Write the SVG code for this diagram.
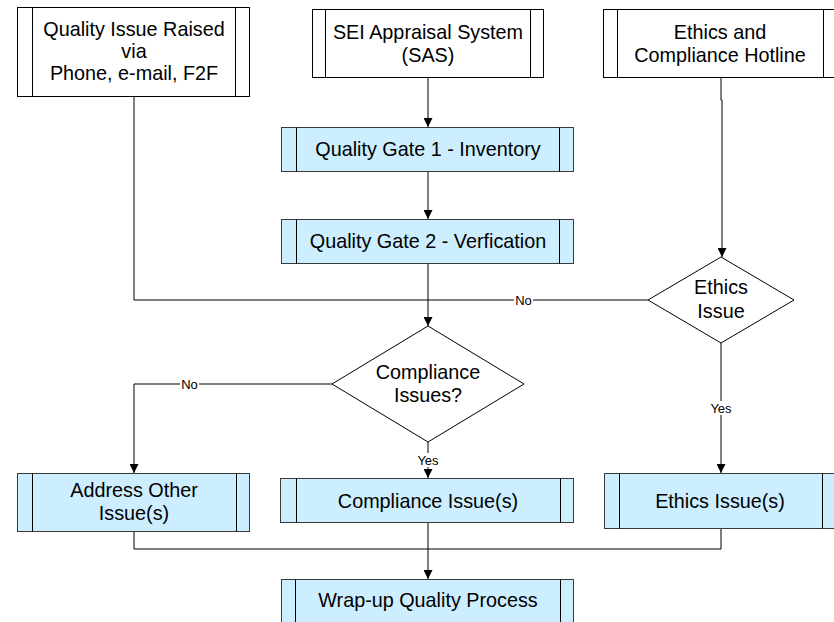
<svg xmlns="http://www.w3.org/2000/svg" width="834" height="622" viewBox="0 0 834 622">
  <style>
    .t { font-family: "Liberation Sans", Arial, sans-serif; font-size: 19.8px; fill: #000; text-anchor: middle; }
    .lbl { font-family: "Liberation Sans", Arial, sans-serif; font-size: 13px; fill: #000; text-anchor: middle; }
    .src { fill: #ffffff; stroke: #000; stroke-width: 1; }
    .proc { fill: #cceeff; stroke: #3a3a3a; stroke-width: 1; }
    .bar { stroke: #000; stroke-width: 1; fill: none; }
    .dec { fill: #ffffff; stroke: #000; stroke-width: 1; }
    .wire { fill: none; stroke: #000; stroke-width: 1; }
    .tag { fill: #ffffff; }
  </style>
  <defs>
    <marker id="arrow" viewBox="0 0 10 10" refX="10" refY="5" markerWidth="9" markerHeight="9" markerUnits="userSpaceOnUse" orient="auto">
      <path d="M0,0 L10,5 L0,10 Z" fill="#000"/>
    </marker>
  </defs>

  <rect width="834" height="622" fill="#ffffff"/>

  <!-- connectors -->
  <g id="connectors">
    <path class="wire" d="M428,78 V127" marker-end="url(#arrow)"/>
    <path class="wire" d="M428,171 V219" marker-end="url(#arrow)"/>
    <path class="wire" d="M428,263 V326" marker-end="url(#arrow)"/>
    <path class="wire" d="M134,97 V300 H428"/>
    <path class="wire" d="M648,300 H428"/>
    <path class="wire" d="M721,78 V100 H722 V257" marker-end="url(#arrow)"/>
    <path class="wire" d="M721,343 V473" marker-end="url(#arrow)"/>
    <path class="wire" d="M332,384 H134 V473" marker-end="url(#arrow)"/>
    <path class="wire" d="M428,442 V478" marker-end="url(#arrow)"/>
    <path class="wire" d="M134,532 V549 H721 V529"/>
    <path class="wire" d="M428,523 V579" marker-end="url(#arrow)"/>
    <!-- branch labels -->
    <rect class="tag" x="514" y="293" width="19" height="14"/>
    <text class="lbl" x="523.5" y="305">No</text>
    <rect class="tag" x="180" y="377" width="19" height="14"/>
    <text class="lbl" x="189.5" y="389">No</text>
    <rect class="tag" x="416" y="453" width="24" height="14"/>
    <text class="lbl" x="428" y="465">Yes</text>
    <rect class="tag" x="709" y="401" width="24" height="14"/>
    <text class="lbl" x="721" y="413">Yes</text>
  </g>

  <!-- entry points -->
  <g id="phone-email">
    <rect class="src" x="17.5" y="7.5" width="232" height="89"/>
    <path class="bar" d="M32.5,7.5 V96.5 M235.5,7.5 V96.5"/>
    <text class="t" x="134" y="36">Quality Issue Raised</text>
    <text class="t" x="134" y="58">via</text>
    <text class="t" x="134" y="80">Phone, e-mail, F2F</text>
  </g>
  <g id="sas">
    <rect class="src" x="312.5" y="9.5" width="231" height="68"/>
    <path class="bar" d="M325.5,9.5 V77.5 M530.5,9.5 V77.5"/>
    <text class="t" x="428" y="39">SEI Appraisal System</text>
    <text class="t" x="428" y="62">(SAS)</text>
  </g>
  <g id="hotline">
    <rect class="src" x="603.5" y="9.5" width="236" height="68"/>
    <path class="bar" d="M617.5,9.5 V77.5 M823.5,9.5 V77.5"/>
    <text class="t" x="720" y="39">Ethics and</text>
    <text class="t" x="720" y="62">Compliance Hotline</text>
  </g>

  <!-- quality gates -->
  <g id="gate1">
    <rect class="proc" x="281.5" y="127.5" width="292" height="44"/>
    <path class="bar" d="M296.5,127.5 V171.5 M559.5,127.5 V171.5"/>
    <text class="t" x="428" y="156">Quality Gate 1 - Inventory</text>
  </g>
  <g id="gate2">
    <rect class="proc" x="281.5" y="219.5" width="292" height="44"/>
    <path class="bar" d="M296.5,219.5 V263.5 M559.5,219.5 V263.5"/>
    <text class="t" x="428" y="248">Quality Gate 2 - Verfication</text>
  </g>

  <!-- decisions -->
  <g id="ethics-decision">
    <polygon class="dec" points="721,257 794,300 721,343 648,300"/>
    <text class="t" x="721" y="294">Ethics</text>
    <text class="t" x="721" y="318">Issue</text>
  </g>
  <g id="compliance-decision">
    <polygon class="dec" points="428,326 524,384 428,442 332,384"/>
    <text class="t" x="428" y="379">Compliance</text>
    <text class="t" x="428" y="402">Issues?</text>
  </g>

  <!-- outcomes -->
  <g id="other-issues">
    <rect class="proc" x="17.5" y="473.5" width="232" height="58"/>
    <path class="bar" d="M32.5,473.5 V531.5 M236.5,473.5 V531.5"/>
    <text class="t" x="134" y="497">Address Other</text>
    <text class="t" x="134" y="520">Issue(s)</text>
  </g>
  <g id="compliance-issues">
    <rect class="proc" x="280.5" y="478.5" width="293" height="44"/>
    <path class="bar" d="M296.5,478.5 V522.5 M560.5,478.5 V522.5"/>
    <text class="t" x="428" y="508">Compliance Issue(s)</text>
  </g>
  <g id="ethics-issues">
    <rect class="proc" x="604.5" y="473.5" width="236" height="55"/>
    <path class="bar" d="M619.5,473.5 V528.5 M822.5,473.5 V528.5"/>
    <text class="t" x="720" y="508">Ethics Issue(s)</text>
  </g>

  <!-- closing step -->
  <g id="wrap-up">
    <rect class="proc" x="281.5" y="579.5" width="292" height="44"/>
    <path class="bar" d="M295.5,579.5 V623.5 M560.5,579.5 V623.5"/>
    <text class="t" x="428" y="607">Wrap-up Quality Process</text>
  </g>
</svg>
